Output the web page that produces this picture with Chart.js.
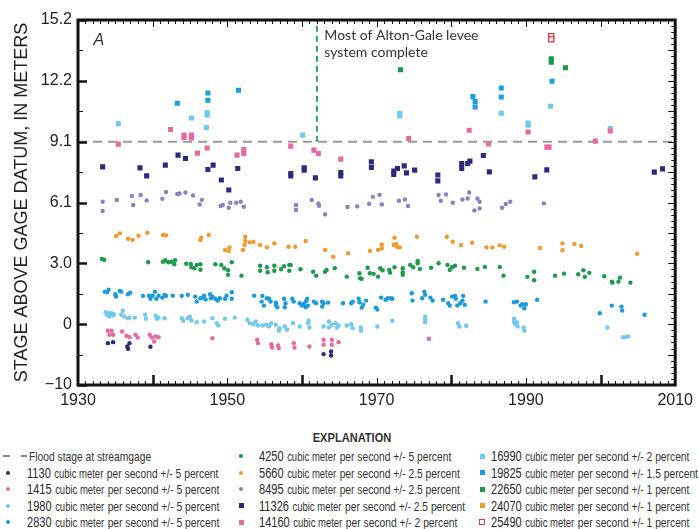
<!DOCTYPE html>
<html>
<head>
<meta charset="utf-8">
<script src="https://cdn.jsdelivr.net/npm/chart.js@4/dist/chart.umd.min.js"></script>
<style>
  html, body { margin: 0; padding: 0; background: #fff; }
  #wrap { position: relative; width: 699px; height: 529px; overflow: hidden; background: #fff; }
  #c { position: absolute; left: 0; top: 0; }
  .lt { position: absolute; white-space: nowrap; font-family: "Liberation Sans", Arial, sans-serif; color: #333;
        transform: scaleX(0.79); transform-origin: 0 50%; line-height: 16px; height: 16px; }
  .num { font-size: 14px; color: #2a2a2a; }
  .cm { font-size: 12px; }
  .rest { font-size: 13px; }
  .mk { position: absolute; }
  .dash { position: absolute; height: 2px; background: #8a8a8a; }
  #expl { position: absolute; font-family: "Liberation Sans", Arial, sans-serif; font-weight: bold; font-size: 13.5px; color: #333;
          transform: translateX(-50%) scaleX(0.82); line-height: 16px; white-space: nowrap; }
</style>
</head>
<body>
<div id="wrap">
  <canvas id="c" width="699" height="415"></canvas>
  <div id="legend"></div>
</div>
<script>
// ---------- DATA (year, stage in meters as labeled on the chart) ----------
const Q1130 = [[1934.0,-0.95],[1934.7,-0.9],[1936.6,-1.12],[1936.7,-1.23],[1936.9,-0.95],[1939.7,-1.13],[1962.9,-1.5],[1963.9,-1.37],[1963.9,-1.57]];
const Q1415 = [[1934.0,-0.33],[1934.5,-0.33],[1934.2,-0.53],[1934.7,-0.53],[1935.9,-0.37],[1936.5,-0.58],[1936.9,-0.65],[1937.7,-0.53],[1938.0,-0.67],[1939.6,-0.53],[1939.9,-0.67],[1940.2,-0.87],[1940.4,-0.62],[1940.8,-0.65],[1948.0,-0.7],[1954.0,-0.78],[1954.1,-0.95],[1955.9,-1.0],[1956.0,-1.17],[1956.8,-1.07],[1956.9,-1.2],[1958.9,-0.95],[1959.0,-1.17],[1961.0,-1.12],[1962.9,-0.78],[1962.9,-1.03],[1964.0,-0.78],[1964.0,-1.03],[1964.9,-0.9],[1977.0,-0.73]];
const Q1980 = [[1933.7,0.6],[1933.9,0.47],[1934.1,0.55],[1934.3,0.47],[1934.5,0.55],[1934.7,0.43],[1934.8,0.5],[1934.2,0.38],[1935.8,0.47],[1936.0,0.67],[1936.2,0.38],[1936.7,0.3],[1936.9,0.33],[1937.6,0.33],[1939.0,0.47],[1939.1,0.27],[1940.4,0.43],[1940.6,0.27],[1940.8,0.33],[1941.6,0.3],[1943.9,0.3],[1944.1,0.17],[1944.7,0.3],[1945.0,0.38],[1945.2,0.18],[1945.9,0.1],[1946.9,0.13],[1948.0,0.3],[1948.6,0.05],[1948.8,-0.07],[1949.7,0.27],[1951.0,0.33],[1952.7,0.22],[1953.0,0.05],[1953.5,0.0],[1953.8,0.13],[1954.1,-0.07],[1954.7,-0.07],[1955.2,-0.03],[1955.6,-0.12],[1955.9,0.05],[1956.5,-0.03],[1956.9,-0.33],[1957.0,-0.2],[1957.7,-0.12],[1958.0,-0.28],[1958.8,0.05],[1959.7,-0.12],[1960.8,0.05],[1960.9,0.17],[1961.0,-0.17],[1962.9,-0.12],[1963.6,0.13],[1963.6,-0.17],[1964.0,-0.03],[1964.5,0.05],[1964.7,-0.17],[1964.9,-0.07],[1966.0,-0.07],[1966.6,0.0],[1966.8,-0.2],[1967.9,-0.17],[1967.9,-0.33],[1970.1,-0.12],[1972.1,0.17],[1976.5,0.38],[1976.5,0.22],[1976.5,0.1],[1980.9,0.05],[1981.1,-0.12],[1982.0,-0.08],[1988.4,0.27],[1988.4,0.13],[1988.5,0.05],[1988.7,-0.03],[1988.8,0.1],[1988.9,-0.12],[1989.7,-0.17],[1989.8,-0.33],[2000.9,-0.17],[2003.0,-0.65],[2003.3,-0.65],[2003.7,-0.62]];
const Q2830 = [[1933.6,1.63],[1934.1,1.73],[1933.9,1.6],[1935.0,1.5],[1935.1,1.38],[1935.6,1.67],[1935.8,1.63],[1936.7,1.5],[1937.0,1.58],[1938.7,1.42],[1939.5,1.43],[1939.7,1.27],[1940.0,1.43],[1940.3,1.63],[1940.5,1.27],[1940.8,1.43],[1941.3,1.33],[1941.6,1.47],[1941.8,1.42],[1942.7,1.43],[1943.9,1.42],[1944.7,1.47],[1945.7,1.38],[1945.9,1.13],[1946.4,1.3],[1946.7,1.33],[1946.9,1.43],[1947.1,1.23],[1947.7,1.5],[1947.8,1.3],[1948.0,1.38],[1948.4,1.27],[1948.7,1.18],[1949.0,1.3],[1949.7,1.27],[1949.9,1.43],[1950.6,1.6],[1950.6,1.27],[1953.6,1.43],[1954.7,1.42],[1954.6,1.13],[1954.9,0.93],[1955.3,1.3],[1955.6,1.27],[1955.8,1.13],[1956.5,0.97],[1956.5,1.08],[1956.7,0.85],[1957.6,1.27],[1957.8,1.05],[1957.7,0.85],[1958.7,1.27],[1958.9,1.13],[1959.7,1.05],[1960.0,0.93],[1960.2,1.0],[1960.5,1.13],[1960.7,1.27],[1960.5,0.85],[1960.8,0.93],[1961.6,1.13],[1961.9,1.05],[1962.7,1.13],[1962.7,0.88],[1962.9,1.05],[1963.5,1.08],[1965.5,1.05],[1966.6,1.05],[1966.8,1.13],[1967.6,1.27],[1967.7,1.1],[1968.0,0.83],[1968.6,1.18],[1968.2,0.97],[1969.9,0.83],[1970.1,0.73],[1970.6,1.33],[1971.2,1.22],[1971.5,1.3],[1971.9,1.3],[1972.1,1.27],[1974.7,1.55],[1974.8,1.18],[1976.1,1.3],[1976.4,1.63],[1976.5,1.47],[1977.2,1.33],[1977.5,1.18],[1978.9,1.22],[1979.6,1.05],[1979.8,0.93],[1980.1,1.38],[1980.5,1.42],[1980.6,1.27],[1980.8,0.93],[1981.2,1.05],[1981.5,1.18],[1981.6,1.42],[1981.8,0.97],[1984.6,1.13],[1988.4,1.1],[1988.8,1.13],[1989.3,0.93],[1989.5,1.0],[1989.8,0.8],[1990.0,1.0],[1991.5,1.22],[1999.9,0.55],[2001.5,0.93],[2002.8,0.88],[2002.9,0.68],[2005.9,0.47]];
const Q4250 = [[1933.2,3.27],[1933.5,3.23],[1939.4,3.1],[1941.4,3.13],[1941.7,3.2],[1942.1,3.1],[1942.5,3.13],[1943.0,3.2],[1942.9,3.0],[1944.5,3.03],[1945.1,3.02],[1945.2,2.85],[1945.6,2.8],[1945.9,2.97],[1946.4,3.0],[1946.4,2.73],[1948.4,3.0],[1949.2,2.97],[1949.6,2.8],[1950.1,2.7],[1950.6,3.1],[1950.1,2.47],[1951.9,2.43],[1954.4,2.93],[1954.4,2.68],[1955.3,2.85],[1955.4,2.6],[1956.3,2.93],[1956.3,2.68],[1957.2,2.75],[1957.6,2.9],[1958.3,2.97],[1958.5,2.97],[1958.3,2.68],[1959.8,2.75],[1961.5,2.63],[1961.9,2.43],[1963.1,2.63],[1963.3,2.72],[1964.4,2.8],[1966.0,2.38],[1967.7,2.55],[1967.8,2.3],[1968.0,2.27],[1968.8,2.83],[1969.1,2.55],[1969.6,2.52],[1970.2,2.38],[1970.5,2.8],[1970.8,2.7],[1971.7,2.72],[1971.8,2.58],[1972.4,2.85],[1973.5,2.8],[1973.5,2.6],[1973.5,2.47],[1974.5,2.97],[1974.9,2.85],[1975.5,3.05],[1975.5,3.17],[1975.8,2.77],[1977.3,2.83],[1978.3,3.05],[1979.5,2.97],[1979.8,2.72],[1980.1,2.85],[1980.5,2.93],[1981.7,2.83],[1983.5,2.77],[1984.5,2.87],[1986.5,2.87],[1987.0,2.43],[1990.2,2.37],[1991.1,2.63],[1991.1,2.2],[1993.9,2.43],[1995.1,2.53],[1997.0,2.5],[1997.7,2.7],[1997.9,2.37],[1998.5,2.57],[2000.5,2.4],[2001.5,2.13],[2001.6,2.08],[2002.4,2.13],[2002.6,2.33],[2004.0,2.08]];
const Q5660 = [[1935.1,4.42],[1935.6,4.55],[1936.7,4.28],[1937.3,4.22],[1938.1,4.43],[1939.3,4.58],[1941.4,4.47],[1941.8,4.45],[1946.4,4.22],[1946.5,4.33],[1947.5,4.47],[1949.7,3.72],[1950.2,3.67],[1950.3,3.85],[1952.1,3.72],[1952.3,3.97],[1952.4,4.17],[1952.4,4.38],[1953.0,4.1],[1953.5,4.13],[1954.4,3.97],[1955.3,3.85],[1956.3,4.05],[1958.2,3.88],[1959.1,3.88],[1960.5,4.17],[1963.1,3.72],[1964.2,3.38],[1966.2,3.55],[1969.1,3.67],[1970.2,3.72],[1970.7,4.0],[1970.7,3.8],[1972.4,4.33],[1972.3,3.97],[1972.6,4.02],[1972.8,3.85],[1973.1,3.85],[1975.4,4.38],[1979.4,4.38],[1980.2,4.13],[1981.3,3.97],[1982.8,4.08],[1984.7,3.85],[1985.5,3.85],[1986.5,3.95],[1987.1,3.88],[1991.9,3.82],[1994.9,4.05],[1994.9,3.7],[1996.5,4.02],[1997.4,3.92],[2004.9,3.53]];
const Q8495 = [[1933.3,6.13],[1933.3,5.67],[1935.2,6.22],[1937.2,6.42],[1937.4,5.97],[1938.4,6.47],[1939.2,6.2],[1941.3,6.28],[1941.8,6.62],[1943.3,6.52],[1943.6,6.55],[1944.4,6.6],[1945.4,6.45],[1946.3,6.0],[1946.6,6.23],[1949.1,5.92],[1949.4,5.97],[1950.4,6.08],[1950.2,5.83],[1951.2,6.08],[1951.8,6.13],[1952.2,5.88],[1959.2,5.97],[1959.2,5.72],[1961.3,6.22],[1962.2,6.05],[1962.3,5.93],[1963.1,5.5],[1966.1,5.87],[1967.4,5.9],[1969.0,6.03],[1969.5,6.38],[1970.4,6.48],[1970.7,6.0],[1973.0,6.18],[1973.8,6.25],[1974.2,5.92],[1978.3,6.47],[1978.6,6.18],[1979.3,6.5],[1980.2,6.08],[1981.5,6.25],[1982.2,6.3],[1982.4,6.6],[1983.1,5.7],[1983.5,6.3],[1983.8,6.13],[1983.8,5.8],[1986.8,5.83],[1987.3,6.02],[1987.9,6.13],[1992.4,6.05]];
const Q11326 = [[1933.3,7.88],[1938.3,7.83],[1939.2,7.43],[1941.7,7.97],[1943.4,8.47],[1944.4,8.3],[1947.4,7.75],[1948.1,7.97],[1949.2,7.22],[1950.2,6.72],[1951.4,7.8],[1958.5,7.55],[1958.5,7.43],[1960.3,7.83],[1960.3,7.72],[1961.8,7.33],[1965.2,7.6],[1965.2,7.43],[1969.3,8.13],[1969.3,7.85],[1972.3,7.67],[1972.3,7.5],[1972.8,7.8],[1973.7,7.93],[1974.0,7.58],[1975.1,7.72],[1978.2,7.47],[1978.2,7.18],[1981.4,8.05],[1981.4,7.8],[1982.2,8.05],[1982.5,8.17],[1984.3,8.45],[1985.1,7.63],[1991.2,7.38],[1992.8,7.73],[2007.2,7.62],[2008.3,7.78]];
const Q14160 = [[1935.4,9.02],[1942.4,9.75],[1944.2,9.47],[1944.2,9.35],[1945.2,9.47],[1945.2,9.33],[1946.0,8.57],[1947.3,8.83],[1951.3,8.47],[1952.2,8.75],[1952.2,8.55],[1958.5,8.92],[1961.6,8.72],[1962.2,8.55],[1965.2,8.27],[1974.3,9.3],[1982.4,9.72],[1985.0,9.03],[1990.3,9.63],[1992.8,8.87],[1993.1,8.87],[1999.3,9.17],[2001.3,9.68]];
const Q16990 = [[1935.4,10.05],[1945.2,10.33],[1947.3,10.6],[1947.3,10.47],[1947.2,9.85],[1960.1,9.47],[1973.1,10.55],[1973.1,10.43],[1986.7,10.57],[1990.3,10.08],[1990.3,9.97],[1993.3,10.92],[2001.3,9.8]];
const Q19825 = [[1943.3,11.07],[1947.4,11.58],[1947.4,11.22],[1951.5,11.72],[1982.9,11.4],[1983.2,11.15],[1983.2,10.88],[1986.7,11.83],[1986.7,11.38],[1993.5,12.17]];
const Q22650 = [[1973.2,12.75],[1993.4,13.3],[1993.4,13.13],[1995.3,12.85]];
const Q24070 = [];
const Q25490 = [[1993.4,14.43],[1993.4,14.27]];

const FLOWS      = ['1130','1415','1980','2830','4250','5660','8495','11326','14160','16990','19825','22650','24070','25490'];
const TOLERANCES = ['5','5','5','5','5','2.5','2.5','2.5','2','2','1.5','1','1','1'];
const SERIES     = [Q1130,Q1415,Q1980,Q2830,Q4250,Q5660,Q8495,Q11326,Q14160,Q16990,Q19825,Q22650,Q24070,Q25490];

const FLOOD_STAGE = 9.144;          // 30 ft
const LEVEE_YEAR = 1962;
const LEVEE_TEXT = ['Most of Alton-Gale levee', 'system complete'];
const PANEL_LABEL = 'A';
const Y_TICK_VALUES = [-3.048, 0, 3.048, 6.096, 9.144, 12.192, 15.24];
const Y_TICK_LABELS = ['\u221210', '0', '3.0', '6.1', '9.1', '12.2', '15.2'];
const X_TICK_LABELS = ['1930', '1950', '1970', '1990', '2010'];

// ---------- STYLES ----------
const COLORS = ['#2b2a7e','#e36aa7','#72c9ee','#1b9bd9','#1d9a4c','#f29a2e','#8b80c0','#2b2a7e','#e8699f','#6ecbef','#1ba0de','#149a4a','#f29a2e','#e03c3c'];
const FT = 0.3048;

const datasets = SERIES.map((s, i) => {
  const square = i >= 7;
  const open = i === 13;
  return {
    label: FLOWS[i],
    data: s.map(p => ({x: p[0], y: p[1]})),
    pointStyle: square ? 'rect' : 'circle',
    pointRadius: square ? 3.6 : 2.2,
    backgroundColor: open ? '#ffffff' : COLORS[i],
    borderColor: COLORS[i],
    pointBorderWidth: open ? 1.3 : 0,
    borderWidth: open ? 1.3 : 0,
    showLine: false,
    order: 1
  };
});
datasets.push({
  label: 'flood', data: [{x: 1930, y: FLOOD_STAGE}, {x: 2010, y: FLOOD_STAGE}],
  showLine: true, pointRadius: 0, borderColor: '#9a9a9a', borderWidth: 2, borderDash: [9, 6], order: 5
});
datasets.push({
  label: 'levee', data: [{x: LEVEE_YEAR, y: FLOOD_STAGE}, {x: LEVEE_YEAR, y: 15.24}],
  showLine: true, pointRadius: 0, borderColor: '#2f9e6e', borderWidth: 2, borderDash: [6, 4], order: 5
});

const frameTicks = {
  id: 'frameTicks',
  afterDraw(chart) {
    const {ctx, chartArea: a, scales: {x, y}} = chart;
    ctx.save();
    ctx.strokeStyle = '#111';
    const ln = (x1, y1, x2, y2, w) => { ctx.lineWidth = w; ctx.beginPath(); ctx.moveTo(x1, y1); ctx.lineTo(x2, y2); ctx.stroke(); };
    for (let yr = 1930; yr <= 2010; yr++) {
      const px = Math.round(x.getPixelForValue(yr)) + 0.5;
      const ten = yr % 10 === 0;
      ln(px, a.top, px, a.top + (ten ? 7 : 4), 1);
      if (yr % 20 === 0) ln(px, a.bottom, px, a.bottom - 10, 2.5);
      else ln(px, a.bottom, px, a.bottom - (ten ? 7 : 4), 1);
    }
    for (let f = -10; f <= 50; f++) {
      const py = Math.round(y.getPixelForValue(f * FT)) + 0.5;
      ln(a.right, py, a.right - (f % 5 === 0 ? 7 : 4), py, 1);
      if (f % 10 === 0) ln(a.left, py, a.left + 9, py, 2.5);
      else if (f % 5 === 0) ln(a.left, py, a.left + 5, py, 1);
    }
    ctx.lineWidth = 3;
    ctx.strokeRect(a.left, a.top, a.right - a.left, a.bottom - a.top);
    // annotation text
    ctx.fillStyle = '#333';
    ctx.font = '14px Lato, "Open Sans", sans-serif';
    ctx.textBaseline = 'middle';
    ctx.textAlign = 'left';
    const tx = x.getPixelForValue(LEVEE_YEAR + 1.0);
    const ty = y.getPixelForValue(14.45);
    ctx.fillText(LEVEE_TEXT[0], tx, ty);
    ctx.fillText(LEVEE_TEXT[1], tx, ty + 17);
    ctx.font = 'italic 16px "Liberation Sans", Arial, sans-serif';
    ctx.textAlign = 'center';
    ctx.fillText(PANEL_LABEL, x.getPixelForValue(1932.8), y.getPixelForValue(14.2));
    ctx.restore();
  }
};

new Chart(document.getElementById('c'), {
  type: 'scatter',
  data: { datasets },
  options: {
    responsive: false,
    animation: false,
    events: [],
    layout: { padding: { left: 0, right: 16, top: 20, bottom: 0 } },
    plugins: { legend: { display: false }, tooltip: { enabled: false } },
    scales: {
      x: {
        type: 'linear', min: 1930, max: 2010,
        grid: { display: false, drawTicks: false }, border: { display: false },
        afterBuildTicks: s => { s.ticks = X_TICK_LABELS.map(v => ({value: Number(v)})); },
        ticks: { callback: (v, i) => X_TICK_LABELS[i], padding: 6, color: '#222', maxRotation: 0,
                 font: { family: '"Liberation Sans", Arial, sans-serif', size: 16 } },
        afterFit: s => { s.height = 30; }
      },
      y: {
        type: 'linear', min: -3.048, max: 15.24,
        grid: { display: false, drawTicks: false }, border: { display: false },
        afterBuildTicks: s => { s.ticks = Y_TICK_VALUES.map(v => ({value: v})); },
        ticks: { callback: (v, i) => Y_TICK_LABELS[i], padding: 6, color: '#222',
                 font: { family: '"Liberation Sans", Arial, sans-serif', size: 16 } },
        title: { display: true, text: 'STAGE ABOVE GAGE DATUM, IN METERS', color: '#222',
                 font: { family: '"Liberation Sans", Arial, sans-serif', size: 18 }, padding: { top: 11, bottom: 0 } },
        afterFit: s => { s.width = 78; }
      }
    }
  },
  plugins: [frameTicks]
});

// ---------- HTML legend ----------
const legend = document.getElementById('legend');
const ROW_Y = [456, 472.5, 489, 505.5, 522];
const COLS = [{mx: 8, tx: 27}, {mx: 241, tx: 259}, {mx: 482, tx: 491}];
const expl = document.createElement('div');
expl.id = 'expl'; expl.textContent = 'EXPLANATION';
expl.style.left = '352px'; expl.style.top = (438 - 8) + 'px';
legend.appendChild(expl);

// flood stage entry
[[3, 10], [21, 27]].forEach(([a, b]) => {
  const d = document.createElement('div'); d.className = 'dash';
  d.style.left = a + 'px'; d.style.width = (b - a) + 'px'; d.style.top = (ROW_Y[0] - 1) + 'px';
  legend.appendChild(d);
});
const ft = document.createElement('div'); ft.className = 'lt';
ft.style.left = '29px'; ft.style.top = (ROW_Y[0] - 8) + 'px';
ft.innerHTML = '<span class="rest">Flood stage at streamgage</span>';
legend.appendChild(ft);

FLOWS.forEach((f, i) => {
  const slot = i + 1;
  const col = Math.floor(slot / 5), row = slot % 5;
  const cy = ROW_Y[row];
  const c = COLS[col];
  const m = document.createElement('div'); m.className = 'mk';
  const sq = i >= 7, open = i === 13;
  const sz = sq ? 5 : 4;
  m.style.left = (c.mx - sz / 2) + 'px'; m.style.top = (cy - sz / 2) + 'px';
  m.style.width = sz + 'px'; m.style.height = sz + 'px';
  if (!sq) m.style.borderRadius = '50%';
  if (open) { m.style.width = '4px'; m.style.height = '4px'; m.style.border = '1.3px solid ' + COLORS[i]; m.style.background = '#fff'; m.style.left = (c.mx - 3) + 'px'; m.style.top = (cy - 3) + 'px'; }
  else m.style.background = COLORS[i];
  legend.appendChild(m);
  const t = document.createElement('div'); t.className = 'lt';
  t.style.left = c.tx + 'px'; t.style.top = (cy - 8) + 'px';
  t.innerHTML = '<span class="num">' + f + '</span> <span class="cm">cubic meter</span> <span class="rest">per second +/- ' + TOLERANCES[i] + ' percent</span>';
  legend.appendChild(t);
});
</script>
</body>
</html>
